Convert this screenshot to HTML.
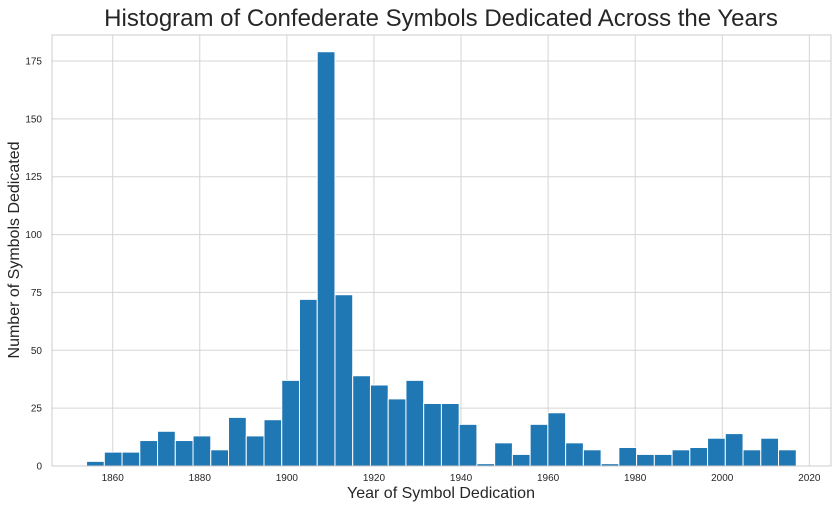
<!DOCTYPE html>
<html><head><meta charset="utf-8"><style>
body{margin:0;background:#fff;font-family:"Liberation Sans",sans-serif}
</style></head><body>
<svg width="838" height="508" xmlns="http://www.w3.org/2000/svg" font-family="Liberation Sans, sans-serif">
<text x="441" y="26" font-size="24" text-anchor="middle" fill="#262626">Histogram of Confederate Symbols Dedicated Across the Years</text>
<g id="grid"></g>
<g id="bars"></g>
<rect x="52" y="35" width="779" height="431" fill="none" stroke="#cccccc" stroke-width="1"/>
<g id="ticks" font-size="10" fill="#262626"></g>
<text x="441" y="498" font-size="16" text-anchor="middle" fill="#262626">Year of Symbol Dedication</text>
<text transform="translate(19,250) rotate(-90)" font-size="16" text-anchor="middle" fill="#262626">Number of Symbols Dedicated</text>
</svg>
<script>
const counts=[2,6,6,11,15,11,13,7,21,13,20,37,72,179,74,39,35,29,37,27,27,18,1,10,5,18,23,10,7,1,8,5,5,7,8,12,14,7,12,7];
const binStart=1854, binEnd=2017;
const xTicks=[1860,1880,1900,1920,1940,1960,1980,2000,2020];
const yTicks=[0,25,50,75,100,125,150,175];
const NS="http://www.w3.org/2000/svg";
const x=v=>112.7+(v-1860)*4.354;
const y=v=>466-v*(405/175);
function mk(t,a,p){const e=document.createElementNS(NS,t);for(const k in a)e.setAttribute(k,a[k]);p.appendChild(e);return e;}
const grid=document.getElementById('grid'),bars=document.getElementById('bars'),ticks=document.getElementById('ticks');
xTicks.forEach(t=>{
 const l=mk('line',{x1:x(t),x2:x(t),y1:35,y2:466,stroke:'#d5d5d5'},grid);
 
 
 const tx=mk('text',{x:x(t),y:481,'text-anchor':'middle'},ticks);tx.textContent=t;
 
 
});
yTicks.forEach(t=>{
 const l=mk('line',{x1:52,x2:831,y1:y(t),y2:y(t),stroke:'#d5d5d5'},grid);
 
 
 const tx=mk('text',{x:42,y:y(t)+3.5,'text-anchor':'end'},ticks);tx.textContent=t;
 
 
});
const w=(binEnd-binStart)/counts.length;
counts.forEach((c,i)=>{
 const x0=x(binStart+i*w),x1=x(binStart+(i+1)*w);
 const r=mk('rect',{x:x0,y:y(c),width:x1-x0,height:466-y(c),fill:'#1f77b4',stroke:'#ffffff','stroke-width':1},bars);
 
 
});
</script>
</body></html>
